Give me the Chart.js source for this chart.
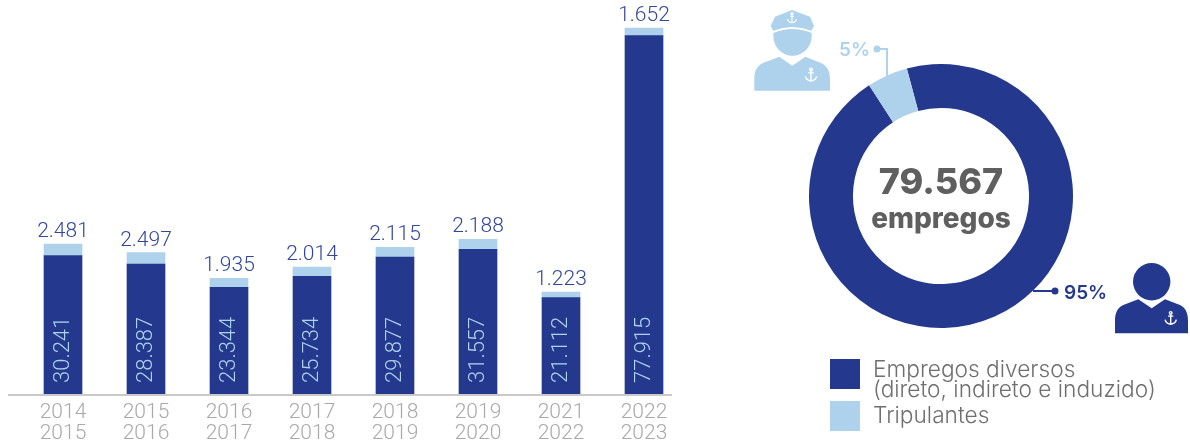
<!DOCTYPE html>
<html lang="pt">
<head>
<meta charset="utf-8">
<title>Empregos</title>
<script src="https://cdn.jsdelivr.net/npm/chart.js@4"></script>
<style>
    html, body { margin: 0; padding: 0; background: #fff; }
    #page { position: relative; width: 1190px; height: 442px; overflow: hidden; font-family: Inter, sans-serif; }
    #barBox { position: absolute; left: 0; top: 0; width: 700px; height: 442px; }
    #ringBox { position: absolute; left: 809px; top: 64px; width: 264px; height: 264px; }
    #icons { position: absolute; left: 0; top: 0; }
    .total { position: absolute; left: 809px; width: 264px; text-align: center; color: #5f5f5f; font-weight: 800; }
    .pct { position: absolute; font-size: 19px; font-weight: 600; line-height: 20px; }
    .swatch { position: absolute; left: 830px; width: 30px; height: 30px; }
    .legendText { position: absolute; left: 873px; color: #6f6f6f; font-size: 22.7px; font-weight: 300; line-height: 20px; white-space: nowrap; }
</style>
</head>
<body>
<div id="page">
    <div id="barBox"><canvas id="barChart"></canvas></div>
    <div id="ringBox"><canvas id="ringChart"></canvas></div>

    <svg id="icons" width="1190" height="442">
        <defs>
            <g id="anchor" fill="none" stroke="#fff" stroke-width="1.4">
                <circle cx="0" cy="-5.4" r="1.3"/>
                <path d="M0 -4 V6 M-2.6 -2.2 H2.6 M-5.6 1.4 C-5 4.6 -2.4 5.6 0 6 C2.4 5.6 5 4.6 5.6 1.4"/>
            </g>
        </defs>

        <!-- crew member -->
        <g fill="#aed2ec">
            <path d="M754.3 90.7 V78 C754.3 70 758 65.5 763 63 L779.3 56.7 L792.3 65.7 L805.3 56.7 L821 63 C826 65.5 830 70 830 78 V90.7 Z"/>
            <path d="M773.3 33 Q792.5 25 811.7 33 V36 A19.2 19.7 0 0 1 773.3 36 Z"/>
            <path d="M792 10 L810 16.7 L814 26 L811.3 30.7 Q792 23.5 773.3 30.7 L770.7 26 L775 16.7 Z"/>
        </g>
        <use href="#anchor" transform="translate(792 18) scale(.8)"/>
        <use href="#anchor" transform="translate(811 75)"/>

        <!-- shore worker -->
        <g fill="#24398e">
            <circle cx="1151.7" cy="281.7" r="18.7"/>
            <path d="M1115 333.3 V321 C1115 312 1118 307.5 1123.3 305 L1138.3 299.3 L1151.7 308.3 L1165 299.3 L1180 305 C1185 307.5 1188 312 1188 321 V333.3 Z"/>
        </g>
        <use href="#anchor" transform="translate(1170.7 318.3)"/>

        <!-- leader lines from the ring to the percentages -->
        <path d="M887 78 V49 H877" fill="none" stroke="#aed2ec" stroke-width="2"/>
        <circle cx="877" cy="49" r="3.5" fill="#aed2ec"/>
        <path d="M1033 291 H1055" fill="none" stroke="#24398e" stroke-width="2"/>
        <circle cx="1055" cy="291" r="3.5" fill="#24398e"/>
    </svg>

    <div class="total" style="top:158px;font-size:36px;line-height:46px;">79.567</div>
    <div class="total" style="top:202px;font-size:28px;line-height:32px;">empregos</div>

    <div class="pct" style="left:839px;top:40px;color:#aed2ec;">5%</div>
    <div class="pct" style="left:1064px;top:283px;color:#24398e;">95%</div>

    <div id="legend"></div>
</div>

<script>
const categories = [['2014', '2015'], ['2015', '2016'], ['2016', '2017'], ['2017', '2018'],
    ['2018', '2019'], ['2019', '2020'], ['2021', '2022'], ['2022', '2023']];
const diversos = [30241, 28387, 23344, 25734, 29877, 31557, 21112, 77915];
const tripulantes = [2481, 2497, 1935, 2014, 2115, 2188, 1223, 1652];
const shareLabels = ['Empregos diversos\n(direto, indireto e induzido)', 'Tripulantes'];
const shareValues = [95, 5];

const DARK = '#24398e';
const LIGHT = '#aed2ec';

const formatThousands = v => String(v).replace(/\B(?=(\d{3})+$)/g, '.');

// Value labels: rotated inside the lower segment, horizontal above the stack.
const barLabels = {
    id: 'barLabels',
    afterDatasetsDraw(chart) {
        const { ctx } = chart;
        const lower = chart.getDatasetMeta(0).data;
        const upper = chart.getDatasetMeta(1).data;
        ctx.save();
        lower.forEach((bar, i) => {
            ctx.save();
            ctx.font = '300 22px Roboto, sans-serif';
            ctx.translate(bar.x, bar.base - 12);
            ctx.rotate(-Math.PI / 2);
            ctx.textAlign = 'left';
            ctx.textBaseline = 'middle';
            ctx.fillStyle = LIGHT;
            ctx.fillText(formatThousands(diversos[i]), 0, 0);
            ctx.restore();

            ctx.font = '300 21px Roboto, sans-serif';
            ctx.textAlign = 'center';
            ctx.textBaseline = 'alphabetic';
            ctx.fillStyle = '#33479a';
            ctx.fillText(formatThousands(tripulantes[i]), upper[i].x, upper[i].y - 7);
        });
        ctx.restore();
    }
};

// Baseline runs a little left of the first category and stops short of the last.
const baseline = {
    id: 'baseline',
    afterDatasetsDraw(chart) {
        const { ctx } = chart;
        const y = chart.scales.y.getPixelForValue(0);
        ctx.save();
        ctx.strokeStyle = '#c9c9c9';
        ctx.lineWidth = 2;
        ctx.beginPath();
        ctx.moveTo(8, y);
        ctx.lineTo(672, y);
        ctx.stroke();
        ctx.restore();
    }
};

new Chart(document.getElementById('barChart'), {
    type: 'bar',
    data: {
        labels: categories,
        datasets: [
            { label: 'Empregos diversos', data: diversos, backgroundColor: DARK, barThickness: 38 },
            { label: 'Tripulantes', data: tripulantes, backgroundColor: LIGHT, barThickness: 38 }
        ]
    },
    options: {
        responsive: true,
        maintainAspectRatio: false,
        animation: false,
        layout: { padding: { left: 21.5, right: 14.5, top: 0, bottom: 0 } },
        plugins: { legend: { display: false }, tooltip: { enabled: false } },
        scales: {
            x: {
                stacked: true,
                grid: { display: false },
                border: { display: false },
                afterFit: scale => { scale.height = 47; },
                ticks: {
                    autoSkip: false,
                    maxRotation: 0,
                    padding: -1,
                    color: '#a9a9a9',
                    font: { family: 'Roboto, sans-serif', size: 21, weight: '300', lineHeight: 1 }
                }
            },
            y: { stacked: true, display: false, min: 0, max: 85630 }
        }
    },
    plugins: [barLabels, baseline]
});

new Chart(document.getElementById('ringChart'), {
    type: 'doughnut',
    data: {
        labels: shareLabels,
        datasets: [{ data: shareValues, backgroundColor: [DARK, LIGHT], borderWidth: 0 }]
    },
    options: {
        responsive: true,
        maintainAspectRatio: false,
        animation: false,
        rotation: -15,
        cutout: '66.7%',
        plugins: { legend: { display: false }, tooltip: { enabled: false } }
    }
});

// Legend entries come from the same labels as the ring.
const legend = document.getElementById('legend');
const legendTops = [359, 401];
const textTops = [359, 405];
shareLabels.forEach((label, i) => {
    const swatch = document.createElement('div');
    swatch.className = 'swatch';
    swatch.style.top = legendTops[i] + 'px';
    swatch.style.background = [DARK, LIGHT][i];
    legend.appendChild(swatch);

    const text = document.createElement('div');
    text.className = 'legendText';
    text.style.top = textTops[i] + 'px';
    text.innerHTML = label.replace('\n', '<br>');
    legend.appendChild(text);
});
</script>
</body>
</html>
